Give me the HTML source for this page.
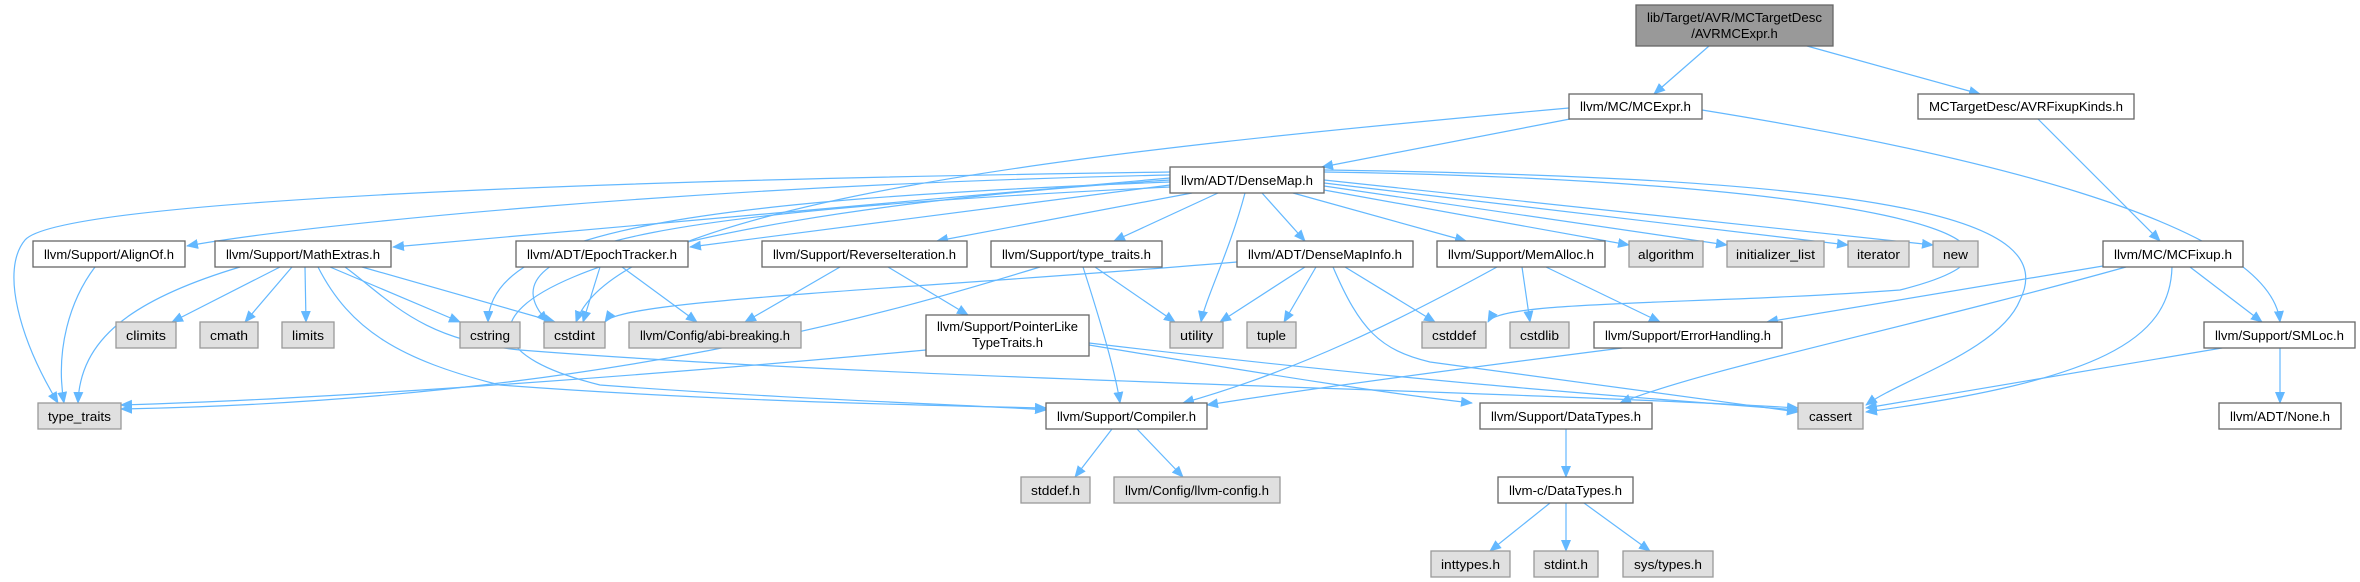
<!DOCTYPE html>
<html><head><meta charset="utf-8"><style>
html,body{margin:0;padding:0;background:#fff;}
svg{display:block;}
text{font-family:"Liberation Sans",Arial,sans-serif;font-size:13px;fill:#000;}
.w{fill:#fff;stroke:#666;stroke-width:1.3;}
.g{fill:#e0e0e0;stroke:#999;stroke-width:1.3;}
.r{fill:#999;stroke:#666;stroke-width:1.3;}
.e{fill:none;stroke:#63b8ff;stroke-width:1.2;}
</style></head><body>
<svg width="2360" height="582" viewBox="0 0 2360 582" xmlns="http://www.w3.org/2000/svg">
<defs><marker id="a" markerWidth="12" markerHeight="10" refX="11" refY="5" orient="auto" markerUnits="userSpaceOnUse"><path d="M0,0 L12,5 L0,10 z" fill="#63b8ff"/></marker></defs>
<g class="e" marker-end="url(#a)">
<path d="M1709,46 L1654,94"/>
<path d="M1807,46 L1980,94"/>
<path d="M2038,119 L2160,241"/>
<path d="M1570,119 L1322,167"/>
<path d="M1569,108 C1100,150 620,200 576,322"/>
<path d="M1702,110 C1950,150 2270,220 2280,322"/>
<path d="M1170,175 C700,185 300,225 187,246"/>
<path d="M1170,178 L393,247"/>
<path d="M1170,185 L690,247"/>
<path d="M1192,193 L937,241"/>
<path d="M1218,193 L1114,241"/>
<path d="M1262,193 L1305,241"/>
<path d="M1293,193 L1466,241"/>
<path d="M1324,190 L1629,245"/>
<path d="M1324,186 L1727,245"/>
<path d="M1324,183 L1848,245"/>
<path d="M1324,180 L1933,245"/>
<path d="M1170,172 C600,180 60,200 25,240 C0,270 20,340 58,403"/>
<path d="M1170,182 C700,200 490,230 488,322"/>
<path d="M1170,187 C700,210 470,240 548,322"/>
<path d="M1245,193 C1230,250 1205,300 1201,322"/>
<path d="M1170,180 C560,220 380,330 600,385 C800,400 980,405 1046,410"/>
<path d="M1324,172 C1850,180 2100,240 1900,290 C1700,305 1500,300 1488,322"/>
<path d="M1324,170 C1900,178 2060,220 2020,300 C2000,350 1900,380 1866,405"/>
<path d="M2103,266 L1767,322"/>
<path d="M2126,267 C1900,330 1700,370 1620,403"/>
<path d="M2172,267 C2170,340 2100,380 1866,412"/>
<path d="M2190,267 L2262,322"/>
<path d="M2222,348 L1866,408"/>
<path d="M2280,348 L2280,403"/>
<path d="M1497,267 C1400,320 1300,370 1183,403"/>
<path d="M1522,267 L1530,322"/>
<path d="M1546,267 L1660,322"/>
<path d="M1622,348 C1450,370 1300,390 1207,405"/>
<path d="M1237,262 C900,290 620,300 605,322"/>
<path d="M1305,267 L1220,322"/>
<path d="M1316,267 L1284,322"/>
<path d="M1345,267 L1435,322"/>
<path d="M1333,267 C1360,330 1380,350 1430,362 L1798,412"/>
<path d="M1040,267 C900,310 600,400 121,409"/>
<path d="M1095,267 L1175,322"/>
<path d="M1083,267 C1100,320 1115,370 1120,403"/>
<path d="M840,267 L745,322"/>
<path d="M888,267 L968,315"/>
<path d="M600,267 L583,322"/>
<path d="M622,267 L697,322"/>
<path d="M926,350 C600,380 300,400 121,405"/>
<path d="M1089,345 C1300,380 1400,395 1472,403"/>
<path d="M1089,343 C1400,380 1600,395 1798,410"/>
<path d="M95,267 C70,300 55,350 64,403"/>
<path d="M240,267 C130,300 80,340 78,403"/>
<path d="M280,267 L172,322"/>
<path d="M292,267 L245,322"/>
<path d="M305,267 L306,322"/>
<path d="M330,267 L460,322"/>
<path d="M362,267 L555,322"/>
<path d="M318,267 C350,330 400,360 500,385 C700,400 900,405 1046,408"/>
<path d="M345,267 C390,300 420,340 520,350 C900,380 1500,390 1798,408"/>
<path d="M1112,429 L1075,477"/>
<path d="M1137,429 L1183,477"/>
<path d="M1566,429 L1566,477"/>
<path d="M1550,503 L1490,551"/>
<path d="M1566,503 L1566,551"/>
<path d="M1584,503 L1650,551"/>
</g>
<g>
<rect class="r" x="1636" y="5" width="197" height="41"/>
<text x="1734.5" y="22" text-anchor="middle" textLength="175" lengthAdjust="spacingAndGlyphs">lib/Target/AVR/MCTargetDesc</text>
<text x="1734.5" y="38" text-anchor="middle">/AVRMCExpr.h</text>

<rect class="w" x="1569" y="94" width="133" height="25"/><text x="1635.5" y="111" text-anchor="middle" textLength="111" lengthAdjust="spacingAndGlyphs">llvm/MC/MCExpr.h</text>
<rect class="w" x="1918" y="94" width="216" height="25"/><text x="2026" y="111" text-anchor="middle" textLength="194" lengthAdjust="spacingAndGlyphs">MCTargetDesc/AVRFixupKinds.h</text>
<rect class="w" x="1170" y="167" width="154" height="26"/><text x="1247" y="185" text-anchor="middle" textLength="132" lengthAdjust="spacingAndGlyphs">llvm/ADT/DenseMap.h</text>

<rect class="w" x="33" y="241" width="152" height="26"/><text x="109" y="259" text-anchor="middle" textLength="130" lengthAdjust="spacingAndGlyphs">llvm/Support/AlignOf.h</text>
<rect class="w" x="215" y="241" width="176" height="26"/><text x="303" y="259" text-anchor="middle" textLength="154" lengthAdjust="spacingAndGlyphs">llvm/Support/MathExtras.h</text>
<rect class="w" x="516" y="241" width="172" height="26"/><text x="602" y="259" text-anchor="middle" textLength="150" lengthAdjust="spacingAndGlyphs">llvm/ADT/EpochTracker.h</text>
<rect class="w" x="762" y="241" width="205" height="26"/><text x="864.5" y="259" text-anchor="middle" textLength="183" lengthAdjust="spacingAndGlyphs">llvm/Support/ReverseIteration.h</text>
<rect class="w" x="991" y="241" width="171" height="26"/><text x="1076.5" y="259" text-anchor="middle" textLength="149" lengthAdjust="spacingAndGlyphs">llvm/Support/type_traits.h</text>
<rect class="w" x="1237" y="241" width="176" height="26"/><text x="1325" y="259" text-anchor="middle" textLength="154" lengthAdjust="spacingAndGlyphs">llvm/ADT/DenseMapInfo.h</text>
<rect class="w" x="1437" y="241" width="168" height="26"/><text x="1521" y="259" text-anchor="middle" textLength="146" lengthAdjust="spacingAndGlyphs">llvm/Support/MemAlloc.h</text>
<rect class="g" x="1629" y="241" width="74" height="26"/><text x="1666" y="259" text-anchor="middle" textLength="56" lengthAdjust="spacingAndGlyphs">algorithm</text>
<rect class="g" x="1727" y="241" width="97" height="26"/><text x="1775.5" y="259" text-anchor="middle" textLength="79" lengthAdjust="spacingAndGlyphs">initializer_list</text>
<rect class="g" x="1848" y="241" width="61" height="26"/><text x="1878.5" y="259" text-anchor="middle" textLength="43" lengthAdjust="spacingAndGlyphs">iterator</text>
<rect class="g" x="1933" y="241" width="45" height="26"/><text x="1955.5" y="259" text-anchor="middle" textLength="25" lengthAdjust="spacingAndGlyphs">new</text>
<rect class="w" x="2103" y="241" width="140" height="26"/><text x="2173" y="259" text-anchor="middle" textLength="118" lengthAdjust="spacingAndGlyphs">llvm/MC/MCFixup.h</text>

<rect class="g" x="116" y="322" width="60" height="26"/><text x="146" y="340" text-anchor="middle" textLength="40" lengthAdjust="spacingAndGlyphs">climits</text>
<rect class="g" x="200" y="322" width="58" height="26"/><text x="229" y="340" text-anchor="middle" textLength="38" lengthAdjust="spacingAndGlyphs">cmath</text>
<rect class="g" x="282" y="322" width="52" height="26"/><text x="308" y="340" text-anchor="middle" textLength="32" lengthAdjust="spacingAndGlyphs">limits</text>
<rect class="g" x="460" y="322" width="60" height="26"/><text x="490" y="340" text-anchor="middle" textLength="40" lengthAdjust="spacingAndGlyphs">cstring</text>
<rect class="g" x="544" y="322" width="61" height="26"/><text x="574.5" y="340" text-anchor="middle" textLength="41" lengthAdjust="spacingAndGlyphs">cstdint</text>
<rect class="g" x="629" y="322" width="172" height="26"/><text x="715" y="340" text-anchor="middle" textLength="150" lengthAdjust="spacingAndGlyphs">llvm/Config/abi-breaking.h</text>
<rect class="w" x="926" y="315" width="163" height="41"/>
<text x="1007.5" y="331" text-anchor="middle" textLength="141" lengthAdjust="spacingAndGlyphs">llvm/Support/PointerLike</text>
<text x="1007.5" y="347" text-anchor="middle">TypeTraits.h</text>
<rect class="g" x="1170" y="322" width="53" height="26"/><text x="1196.5" y="340" text-anchor="middle" textLength="33" lengthAdjust="spacingAndGlyphs">utility</text>
<rect class="g" x="1247" y="322" width="49" height="26"/><text x="1271.5" y="340" text-anchor="middle" textLength="29" lengthAdjust="spacingAndGlyphs">tuple</text>
<rect class="g" x="1422" y="322" width="64" height="26"/><text x="1454" y="340" text-anchor="middle" textLength="44" lengthAdjust="spacingAndGlyphs">cstddef</text>
<rect class="g" x="1510" y="322" width="59" height="26"/><text x="1539.5" y="340" text-anchor="middle" textLength="39" lengthAdjust="spacingAndGlyphs">cstdlib</text>
<rect class="w" x="1594" y="322" width="188" height="26"/><text x="1688" y="340" text-anchor="middle" textLength="166" lengthAdjust="spacingAndGlyphs">llvm/Support/ErrorHandling.h</text>
<rect class="w" x="2204" y="322" width="151" height="26"/><text x="2279.5" y="340" text-anchor="middle" textLength="129" lengthAdjust="spacingAndGlyphs">llvm/Support/SMLoc.h</text>

<rect class="g" x="38" y="403" width="83" height="26"/><text x="79.5" y="421" text-anchor="middle" textLength="63" lengthAdjust="spacingAndGlyphs">type_traits</text>
<rect class="w" x="1046" y="403" width="161" height="26"/><text x="1126.5" y="421" text-anchor="middle" textLength="139" lengthAdjust="spacingAndGlyphs">llvm/Support/Compiler.h</text>
<rect class="w" x="1480" y="403" width="172" height="26"/><text x="1566" y="421" text-anchor="middle" textLength="150" lengthAdjust="spacingAndGlyphs">llvm/Support/DataTypes.h</text>
<rect class="g" x="1798" y="403" width="65" height="26"/><text x="1830.5" y="421" text-anchor="middle" textLength="43" lengthAdjust="spacingAndGlyphs">cassert</text>
<rect class="w" x="2219" y="403" width="122" height="26"/><text x="2280" y="421" text-anchor="middle" textLength="100" lengthAdjust="spacingAndGlyphs">llvm/ADT/None.h</text>

<rect class="g" x="1021" y="477" width="69" height="26"/><text x="1055.5" y="495" text-anchor="middle" textLength="49" lengthAdjust="spacingAndGlyphs">stddef.h</text>
<rect class="g" x="1114" y="477" width="166" height="26"/><text x="1197" y="495" text-anchor="middle" textLength="144" lengthAdjust="spacingAndGlyphs">llvm/Config/llvm-config.h</text>
<rect class="w" x="1498" y="477" width="135" height="26"/><text x="1565.5" y="495" text-anchor="middle" textLength="113" lengthAdjust="spacingAndGlyphs">llvm-c/DataTypes.h</text>

<rect class="g" x="1431" y="551" width="79" height="26"/><text x="1470.5" y="569" text-anchor="middle" textLength="59" lengthAdjust="spacingAndGlyphs">inttypes.h</text>
<rect class="g" x="1534" y="551" width="64" height="26"/><text x="1566" y="569" text-anchor="middle" textLength="44" lengthAdjust="spacingAndGlyphs">stdint.h</text>
<rect class="g" x="1623" y="551" width="90" height="26"/><text x="1668" y="569" text-anchor="middle" textLength="68" lengthAdjust="spacingAndGlyphs">sys/types.h</text>
</g>
</svg>
</body></html>
